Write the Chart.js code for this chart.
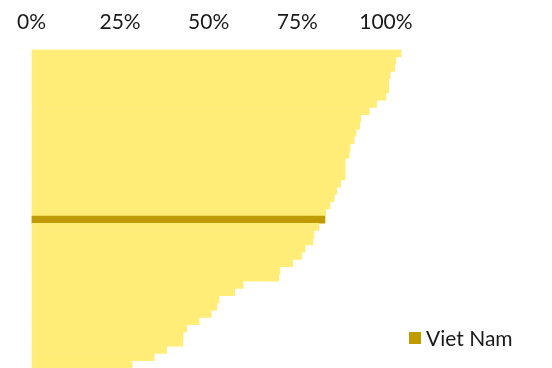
<!DOCTYPE html>
<html>
<head>
<meta charset="utf-8">
<script src="https://cdn.jsdelivr.net/npm/chart.js@4/dist/chart.umd.min.js"></script>
<style>
  html, body { margin: 0; padding: 0; background: #fff; }
  #wrap { position: relative; width: 552px; height: 368px; }
  #legend {
    position: absolute; left: 409px; top: 325px;
    font-family: Lato, sans-serif; font-size: 21px; color: #1a1a1a;
    display: flex; align-items: center; white-space: nowrap;
  }
  #legend span.box { display: inline-block; width: 12px; height: 12px; margin-right: 5px; }
</style>
</head>
<body>
<div id="wrap">
  <canvas id="enrolChart" width="552" height="368"></canvas>
  <div id="legend"></div>
</div>
<script>
// one bar per country, sorted from highest to lowest rate
const countries = [
  "C01", "C02", "C03", "C04", "C05", "C06", "C07", "C08", "C09", "C10",
  "C11", "C12", "C13", "C14", "C15", "C16", "C17", "C18", "C19", "C20",
  "C21", "C22", "C23", "Viet Nam", "C25", "C26", "C27", "C28", "C29", "C30",
  "C31", "C32", "C33", "C34", "C35", "C36", "C37", "C38", "C39", "C40",
  "C41", "C42", "C43", "C44"
];
const rates = [
  104.3, 102.8, 102.5, 101.2, 100.8, 100.8, 100.0, 97.4, 95.3, 92.9,
  92.6, 91.6, 91.0, 89.9, 89.6, 88.5, 88.5, 88.5, 87.2, 86.1,
  85.4, 84.2, 83.0, 82.8, 81.1, 79.7, 79.4, 77.2, 76.2, 73.7,
  70.1, 69.8, 59.7, 57.3, 52.9, 52.3, 50.7, 47.3, 43.8, 42.8,
  42.7, 38.1, 34.6, 28.4
];
const tickValues = [0, 25, 50, 75, 100];

const highlight = "Viet Nam";
const baseColor = "#ffed78";
const highlightColor = "#bf9b00";

function createRateChart() {
  const data = {
    labels: countries,
    datasets: [
      {
        data: rates,
        backgroundColor: countries.map((c) => (c === highlight ? highlightColor : baseColor)),
        borderWidth: 0,
        categoryPercentage: 1,
        barPercentage: 1,
      },
    ],
  };

  const config = {
    type: "bar",
    data: data,
    options: {
      indexAxis: "y",
      responsive: false,
      animation: false,
      layout: { padding: { left: 31.5, right: 24.3, top: -4.6, bottom: 0 } },
      scales: {
        x: {
          position: "top",
          min: 0,
          max: 140,
          grid: { display: false, drawTicks: false },
          border: { display: false },
          afterBuildTicks: (axis) => {
            axis.ticks = tickValues.map((v) => ({ value: v }));
          },
          ticks: {
            padding: 14.5,
            color: "#1a1a1a",
            font: { family: "Lato, sans-serif", size: 21 },
            callback: (v) => v + "%",
          },
        },
        y: { display: false },
      },
      plugins: {
        legend: { display: false },
        tooltip: { enabled: false },
      },
    },
  };

  const ctx = document.getElementById("enrolChart");
  new Chart(ctx, config);

  const legend = document.getElementById("legend");
  legend.innerHTML = `<span class="box" style="background:${highlightColor}"></span>${highlight}`;
}

document.addEventListener("DOMContentLoaded", () => {
  createRateChart();
});
</script>
</body>
</html>
